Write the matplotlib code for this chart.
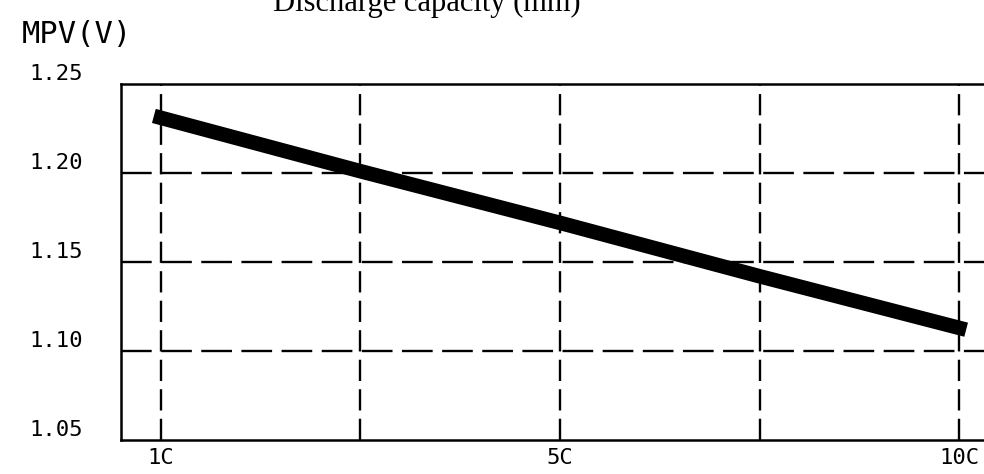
import matplotlib
matplotlib.use("Agg")
import matplotlib.pyplot as plt

# discharge rate positions (grid columns) and mid-point voltage
grid_positions = [0, 1, 2, 3, 4]
rate_labels = ["1C", "", "5C", "", "10C"]
mpv_values = [1.231, 1.201, 1.172, 1.142, 1.113]
y_ticks = [1.05, 1.10, 1.15, 1.20, 1.25]
y_labels = ["1.05", "1.10", "1.15", "1.20", "1.25"]

W, H = 984, 474
fig = plt.figure(figsize=(W / 100, H / 100), dpi=100)

# axes runs past the right edge of the picture, like the scanned original
left, right, bottom, top = 121, 999, 34, 390
ax = fig.add_axes([left / W, bottom / H, (right - left) / W, (top - bottom) / H])

ax.plot(grid_positions, mpv_values, color="black", linewidth=10.5,
        solid_capstyle="projecting", zorder=3)

ax.set_xlim(-0.2, 4.2)
ax.set_ylim(1.05, 1.25)

ax.set_xticks(grid_positions)
ax.set_xticklabels(rate_labels)
ax.set_yticks(y_ticks)
ax.set_yticklabels(y_labels)

mono = "DejaVu Sans Mono"
ax.tick_params(axis="both", length=0, labelsize=16)
ax.tick_params(axis="x", pad=6)
ax.tick_params(axis="y", pad=47)
for lab in ax.get_yticklabels():
    lab.set_fontfamily(mono)
    lab.set_horizontalalignment("center")
    lab.set_verticalalignment("bottom")
for lab in ax.get_xticklabels():
    lab.set_fontfamily(mono)

# dashed grid, vertical and horizontal dashes differ a little
for xv in grid_positions:
    ax.axvline(xv, color="black", linewidth=1.7, dashes=(9, 3.5), zorder=1)
for yv in y_ticks[1:4]:
    ax.axhline(yv, color="black", linewidth=1.7, dashes=(13, 4), zorder=1)

for side in ["left", "top", "bottom"]:
    ax.spines[side].set_linewidth(1.8)
    ax.spines[side].set_color("black")
ax.spines["right"].set_visible(False)

fig.text(22 / W, 1 - 43 / H, "MPV(V)", fontsize=22, family=mono,
         ha="left", va="baseline")
fig.text(427 / W, 1 - 11 / H, "Discharge capacity (mm)", fontsize=22,
         family="Liberation Serif", ha="center", va="baseline")

fig.savefig("out.png", dpi=100, facecolor="white")
